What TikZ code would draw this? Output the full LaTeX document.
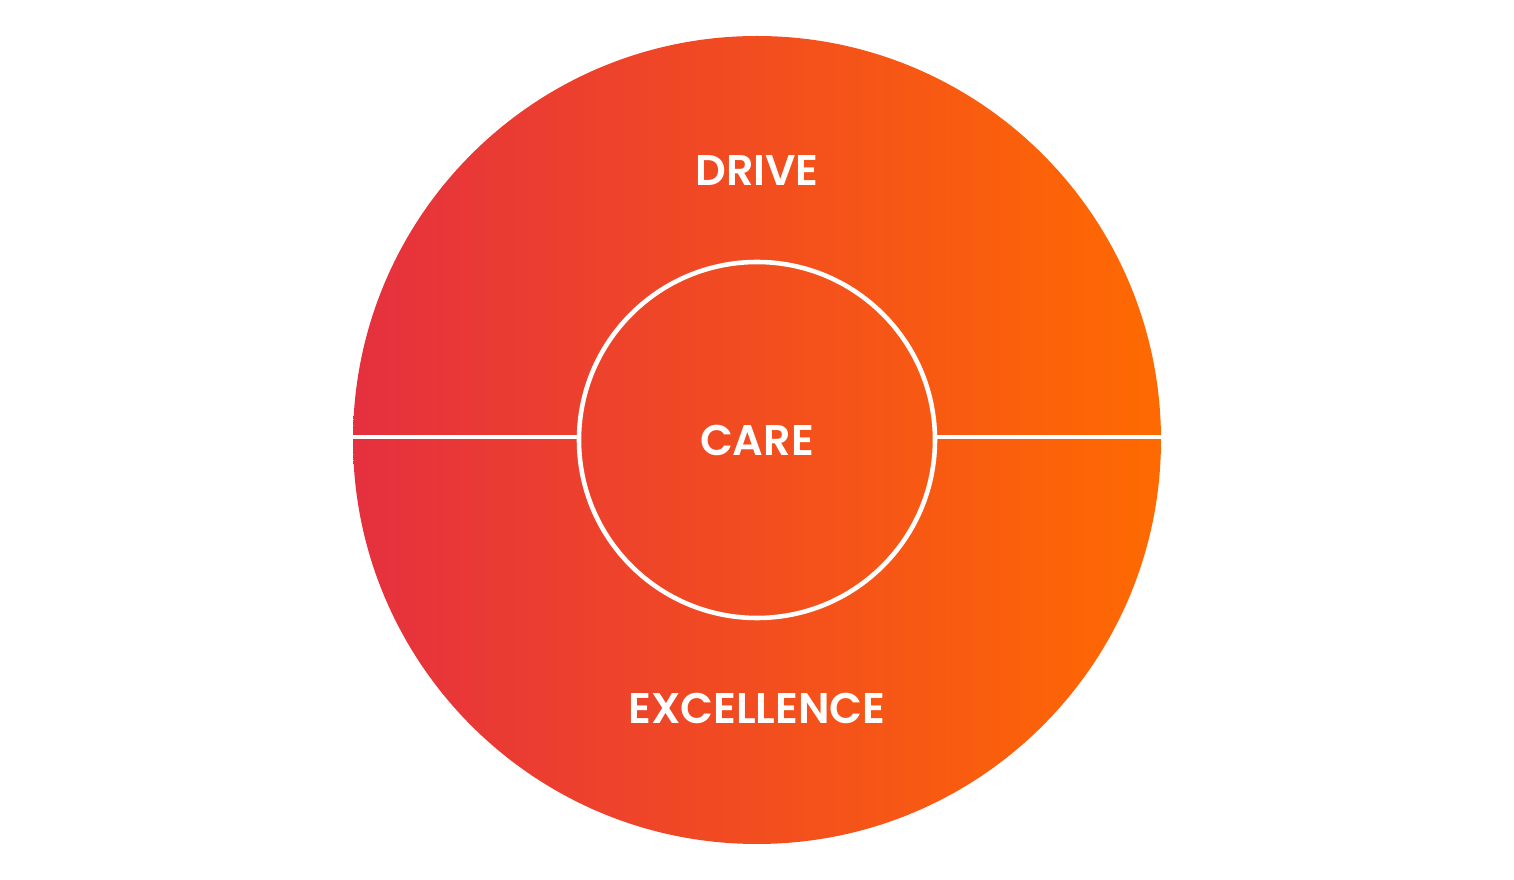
\documentclass[tikz,border=0pt]{standalone}
\usepackage{fontspec}
\setmainfont{Poppins}[UprightFont=* SemiBold]
\usepackage{tikz}

\definecolor{warmred}{HTML}{E5303F}
\definecolor{warmorange}{HTML}{FF6A00}

\begin{document}
\begin{tikzpicture}[
  word/.style={text=white,font=\fontsize{12.2}{14}\selectfont,inner sep=0pt},
  ring/.style={circle,draw=white,line width=1.3pt,minimum size=3.56cm,inner sep=0pt},
  divider/.style={draw=white,line width=1.3pt}
]

\useasboundingbox (0,0) rectangle (15.14,8.80);

\shade[left color=warmred,right color=warmorange] (7.57,4.40) circle (4.04);

\node[ring,word] (care) at (7.57,4.40) {CARE};
\node[word] (drive) at (7.57,7.09) {DRIVE};
\node[word] (excellence) at (7.57,1.72) {EXCELLENCE};

\coordinate (leftrim) at (3.53,4.43);
\coordinate (rightrim) at (11.61,4.43);
\draw[divider] (leftrim) -- ([yshift=0.03cm]care.west);
\draw[divider] ([yshift=0.03cm]care.east) -- (rightrim);

\end{tikzpicture}
\end{document}
